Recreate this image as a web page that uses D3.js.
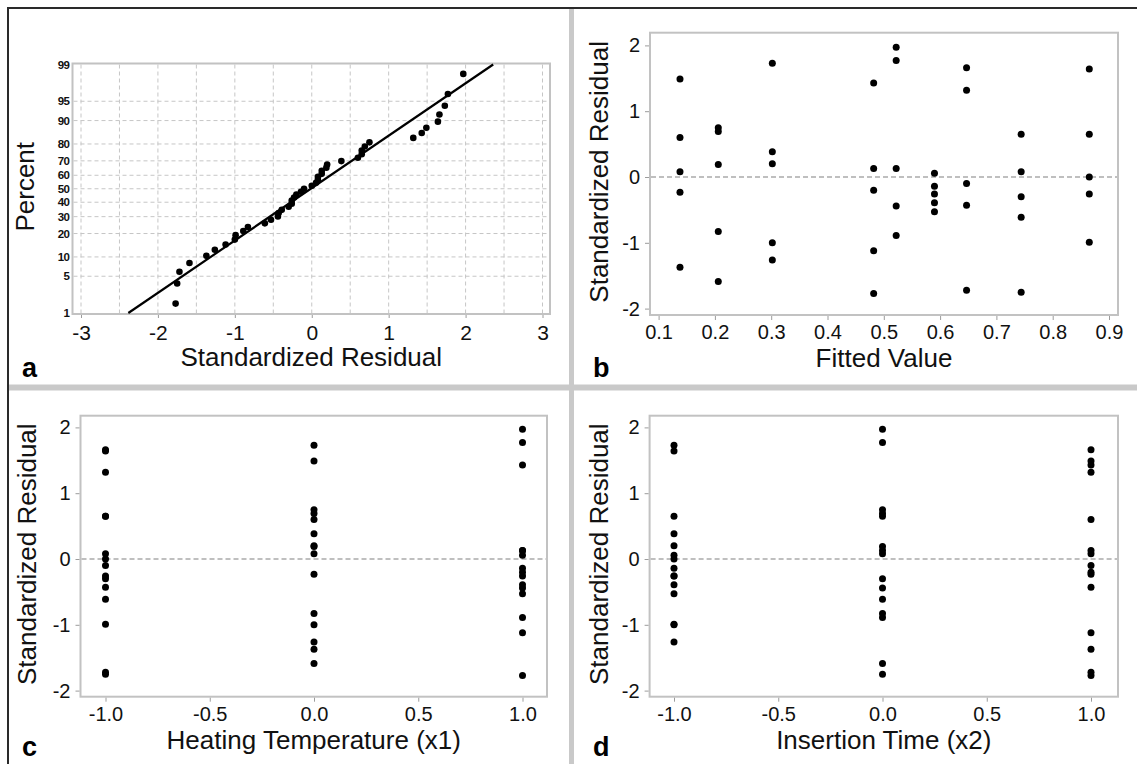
<!DOCTYPE html>
<html>
<head>
<meta charset="utf-8">
<script src="https://cdn.jsdelivr.net/npm/d3@7"></script>
<style>
  html, body { margin: 0; padding: 0; background: #fff; }
  svg { display: block; }
</style>
</head>
<body>
<script>
// Residual diagnostics for a 3x3 factorial design (5 replicates per run).

// Fitted value of each design run
const fittedValues = [0.138, 0.206, 0.302, 0.482, 0.522, 0.590, 0.647, 0.744, 0.865];
// Coded factor levels of each run
const heatingLevel   = [0, 0, 0, 1, 1, 1, -1, -1, -1];
const insertionLevel = [1, 0, -1, 1, 0, -1, 1, 0, -1];
// Standardized residuals of the five replicates in each run
const residualsByRun = [
  [1.49, 0.60, 0.08, -0.23, -1.37],
  [0.75, 0.69, 0.19, -0.83, -1.59],
  [1.73, 0.385, 0.20, -1.00, -1.26],
  [1.43, 0.13, -0.20, -1.12, -1.77],
  [1.97, 1.77, 0.13, -0.44, -0.89],
  [0.056, -0.14, -0.26, -0.39, -0.53],
  [1.66, 1.32, -0.10, -0.43, -1.72],
  [0.65, 0.08, -0.30, -0.61, -1.75],
  [1.64, 0.65, 0.00, -0.26, -0.99]
];

// Tick values
const percentTicks  = [1, 5, 10, 20, 30, 40, 50, 60, 70, 80, 90, 95, 99];
const residualTicks = [-3, -2, -1, 0, 1, 2, 3];
const fittedTicks   = [0.1, 0.2, 0.3, 0.4, 0.5, 0.6, 0.7, 0.8, 0.9];
const levelTicks    = [-1, -0.5, 0, 0.5, 1];
const stdResTicks   = [-2, -1, 0, 1, 2];

// Flattened observations
const obs = [];
residualsByRun.forEach((rs, i) => rs.forEach(r => obs.push({
  res: r, fit: fittedValues[i], x1: heatingLevel[i], x2: insertionLevel[i]
})));

// Inverse standard normal CDF (Acklam's rational approximation)
function qnorm(p) {
  const a = [-3.969683028665376e+01, 2.209460984245205e+02, -2.759285104469687e+02, 1.383577518672690e+02, -3.066479806614716e+01, 2.506628277459239e+00];
  const b = [-5.447609879822406e+01, 1.615858368580409e+02, -1.556989798598866e+02, 6.680131188771972e+01, -1.328068155288572e+01];
  const c = [-7.784894002430293e-03, -3.223964580411365e-01, -2.400758277161838e+00, -2.549732539343734e+00, 4.374664141464968e+00, 2.938163982698783e+00];
  const d = [7.784695709041462e-03, 3.224671290700398e-01, 2.445134137142996e+00, 3.754408661907416e+00];
  const pl = 0.02425, ph = 1 - pl;
  if (p < pl) {
    const q = Math.sqrt(-2 * Math.log(p));
    return (((((c[0]*q+c[1])*q+c[2])*q+c[3])*q+c[4])*q+c[5]) / ((((d[0]*q+d[1])*q+d[2])*q+d[3])*q+1);
  }
  if (p <= ph) {
    const q = p - 0.5, r = q * q;
    return (((((a[0]*r+a[1])*r+a[2])*r+a[3])*r+a[4])*r+a[5])*q / (((((b[0]*r+b[1])*r+b[2])*r+b[3])*r+b[4])*r+1);
  }
  const q = Math.sqrt(-2 * Math.log(1 - p));
  return -(((((c[0]*q+c[1])*q+c[2])*q+c[3])*q+c[4])*q+c[5]) / ((((d[0]*q+d[1])*q+d[2])*q+d[3])*q+1);
}

const W = 1137, H = 764;
const FONT = '"Liberation Sans", Arial, Helvetica, sans-serif';
const BOX = '#c2c2c2', TICK = '#9c9c9c', INK = '#111';

const svg = d3.select('body').append('svg')
  .attr('width', W).attr('height', H)
  .style('font-family', FONT);

svg.append('rect').attr('width', W).attr('height', H).attr('fill', '#fff');

// Panel dividers and outer frame
svg.append('rect').attr('x', 569).attr('y', 9).attr('width', 5).attr('height', H - 9).attr('fill', '#c9c9c9');
svg.append('rect').attr('x', 9).attr('y', 384.5).attr('width', W - 9).attr('height', 6).attr('fill', '#c9c9c9');
svg.append('path').attr('d', `M8,${H} V8 H${W}`).attr('fill', 'none').attr('stroke', '#2a2a2a').attr('stroke-width', 2);

function styleAxis(g, fontSize) {
  g.select('.domain').remove();
  g.selectAll('.tick line').attr('stroke', TICK).attr('stroke-width', 1);
  g.selectAll('.tick text').attr('fill', INK).style('font-size', fontSize + 'px').style('font-family', FONT);
}

function frame(p) {
  const g = svg.append('g');
  g.append('rect')
    .attr('x', p.x0).attr('y', p.y0)
    .attr('width', p.x1 - p.x0).attr('height', p.y1 - p.y0)
    .attr('fill', 'none').attr('stroke', BOX).attr('stroke-width', 2);
  return g;
}

function titles(g, p) {
  g.append('text')
    .attr('x', (p.x0 + p.x1) / 2).attr('y', p.y1 + 52)
    .attr('text-anchor', 'middle').attr('fill', INK)
    .style('font-size', '26px').text(p.xTitle);
  g.append('text')
    .attr('transform', `translate(${p.yTitleX},${(p.y0 + p.y1) / 2 - 2}) rotate(-90)`)
    .attr('text-anchor', 'middle').attr('fill', INK)
    .style('font-size', '26px').text(p.yTitle);
  g.append('text')
    .attr('x', p.letterX).attr('y', p.letterY)
    .attr('fill', '#000').style('font-size', '27px').style('font-weight', 'bold')
    .text(p.letter);
}

// ---------- (a) normal probability plot ----------
(function () {
  const p = { x0: 72.5, x1: 550, y0: 63.5, y1: 314,
              xTitle: 'Standardized Residual', yTitle: 'Percent',
              yTitleX: 34, letter: 'a', letterX: 22, letterY: 377 };
  const x = d3.scaleLinear().domain([-3, 3]).range([81, 542.5]);
  const y = d3.scaleLinear().domain([qnorm(0.01), qnorm(0.99)]).range([312.5, 65]);

  const g = frame(p);

  // dashed grid
  const grid = g.append('g').attr('stroke', '#c6c6c6').attr('stroke-width', 1).attr('stroke-dasharray', '4,3');
  grid.selectAll('line.v').data(d3.range(-3, 3.001, 0.5)).join('line')
    .attr('x1', d => x(d)).attr('x2', d => x(d)).attr('y1', p.y0 + 1).attr('y2', p.y1 - 1);
  grid.selectAll('line.h').data(percentTicks.slice(1, -1)).join('line')
    .attr('x1', p.x0 + 1).attr('x2', p.x1 - 1)
    .attr('y1', d => y(qnorm(d / 100))).attr('y2', d => y(qnorm(d / 100)));

  const gx = g.append('g').attr('transform', `translate(0,${p.y1 + 1})`)
    .call(d3.axisBottom(x).tickValues(residualTicks).tickFormat(d => String(d)).tickSize(3).tickPadding(7));
  styleAxis(gx, 21);

  const gy = g.append('g').attr('transform', `translate(${p.x0 - 1},0)`)
    .call(d3.axisLeft(y).tickValues(percentTicks.map(v => qnorm(v / 100)))
      .tickFormat((d, i) => String(percentTicks[i])).tickSize(0).tickPadding(2));
  styleAxis(gy, 11.5);
  gy.selectAll('.tick text').style('letter-spacing', '-0.5px').style('font-weight', '600');

  // fitted normal line from the sample mean and standard deviation
  const res = obs.map(o => o.res);
  const mu = d3.mean(res), sd = d3.deviation(res);
  const zTop = y.invert(p.y0 + 1), zBot = y.invert(p.y1 - 1);
  g.append('line')
    .attr('x1', x(mu + sd * zBot)).attr('y1', y(zBot))
    .attr('x2', x(mu + sd * zTop)).attr('y2', y(zTop))
    .attr('stroke', '#000').attr('stroke-width', 2.2);

  // median-rank plotting positions of the ordered residuals
  const sorted = res.slice().sort(d3.ascending);
  const n = sorted.length;
  g.append('g').selectAll('circle').data(sorted).join('circle')
    .attr('cx', d => x(d))
    .attr('cy', (d, i) => y(qnorm((i + 1 - 0.3) / (n + 0.4))))
    .attr('r', 3.3).attr('fill', '#000');

  titles(g, p);
})();

// ---------- residual-versus panels ----------
function versusPanel(p) {
  const g = frame(p);
  const gx = g.append('g').attr('transform', `translate(0,${p.y1 + 1})`)
    .call(d3.axisBottom(p.x).tickValues(p.xTicks).tickFormat(p.xFmt).tickSize(4).tickPadding(5));
  styleAxis(gx, 20);
  const gy = g.append('g').attr('transform', `translate(${p.x0 - 1},0)`)
    .call(d3.axisLeft(p.y).tickValues(stdResTicks).tickFormat(d => String(d)).tickSize(4).tickPadding(5));
  styleAxis(gy, 20);

  // zero reference
  g.append('line')
    .attr('x1', p.x0 + 1).attr('x2', p.x1 - 1)
    .attr('y1', p.y(0)).attr('y2', p.y(0))
    .attr('stroke', '#ababab').attr('stroke-width', 1.4).attr('stroke-dasharray', '5,3');

  g.append('g').selectAll('circle').data(obs).join('circle')
    .attr('cx', d => p.x(p.key(d)))
    .attr('cy', d => p.y(d.res))
    .attr('r', 3.5).attr('fill', '#000');

  titles(g, p);
}

const fmt1 = d => d.toFixed(1);

// (b) versus fitted value
versusPanel({
  x0: 650, x1: 1118, y0: 32.7, y1: 315,
  x: d3.scaleLinear().domain([0.1, 0.9]).range([658.6, 1109]),
  y: d3.scaleLinear().domain([-2, 2]).range([308.6, 45.4]),
  xTicks: fittedTicks, xFmt: fmt1, key: d => d.fit,
  xTitle: 'Fitted Value', yTitle: 'Standardized Residual',
  yTitleX: 608, letter: 'b', letterX: 593, letterY: 377
});

// (c) versus heating temperature
versusPanel({
  x0: 80.5, x1: 547, y0: 415.7, y1: 696.7,
  x: d3.scaleLinear().domain([-1, 1]).range([105.5, 522.5]),
  y: d3.scaleLinear().domain([-2, 2]).range([690.6, 427.4]),
  xTicks: levelTicks, xFmt: fmt1, key: d => d.x1,
  xTitle: 'Heating Temperature (x1)', yTitle: 'Standardized Residual',
  yTitleX: 36, letter: 'c', letterX: 22, letterY: 756
});

// (d) versus insertion time
versusPanel({
  x0: 649.6, x1: 1118, y0: 415.7, y1: 696.7,
  x: d3.scaleLinear().domain([-1, 1]).range([674, 1091]),
  y: d3.scaleLinear().domain([-2, 2]).range([690.6, 427.4]),
  xTicks: levelTicks, xFmt: fmt1, key: d => d.x2,
  xTitle: 'Insertion Time (x2)', yTitle: 'Standardized Residual',
  yTitleX: 608, letter: 'd', letterX: 593, letterY: 756
});
</script>
</body>
</html>
